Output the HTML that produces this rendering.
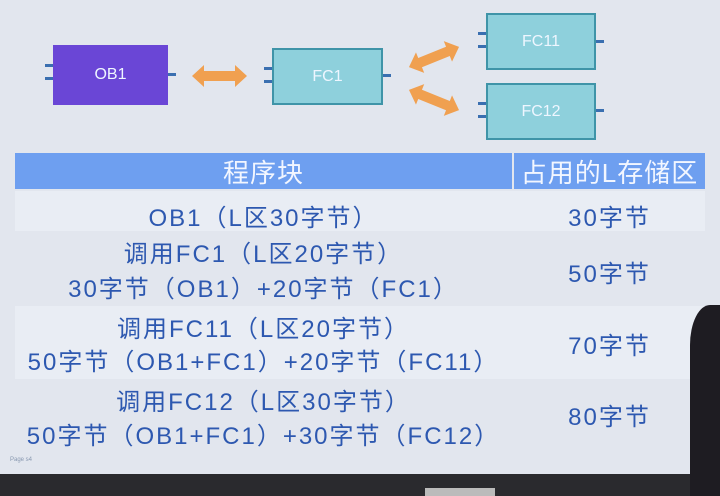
<!DOCTYPE html>
<html><head><meta charset="utf-8"><style>
body{margin:0;width:720px;height:496px;overflow:hidden;background:#e2e6ee;position:relative;font-family:"Liberation Sans","Noto Sans CJK SC",sans-serif}
.b{position:absolute;box-sizing:border-box;color:#eef6ff;font-size:16px;display:flex;align-items:center;justify-content:center}
.fc{background:#8ed0dc;border:2px solid #3f94a8}
.p{position:absolute;background:#3a6fb0;height:3px;width:8px}
.t{position:absolute;color:#2d58b0;font-size:24px;letter-spacing:2px;text-align:center;white-space:nowrap}
.h{position:absolute;top:153px;height:36px;background:#6e9ff0;color:#f2f6ff;font-size:26px;letter-spacing:1px;display:flex;align-items:center;justify-content:center}
</style></head><body>
<div class="b" style="left:53px;top:45px;width:115px;height:60px;background:#6a46d6">OB1</div>
<div class="p" style="left:45px;top:64px"></div><div class="p" style="left:45px;top:77px"></div><div class="p" style="left:168px;top:73px"></div>
<div class="b fc" style="left:272px;top:48px;width:111px;height:57px">FC1</div>
<div class="p" style="left:264px;top:67px"></div><div class="p" style="left:264px;top:80px"></div><div class="p" style="left:383px;top:74px"></div>
<div class="b fc" style="left:486px;top:13px;width:110px;height:57px">FC11</div>
<div class="p" style="left:478px;top:32px"></div><div class="p" style="left:478px;top:45px"></div><div class="p" style="left:596px;top:40px"></div>
<div class="b fc" style="left:486px;top:83px;width:110px;height:57px">FC12</div>
<div class="p" style="left:478px;top:102px"></div><div class="p" style="left:478px;top:115px"></div><div class="p" style="left:596px;top:109px"></div>
<svg style="position:absolute;left:0;top:0" width="720" height="150">
<g fill="#f0a050">
<polygon points="192,76 204,65 204,71 235,71 235,65 247,76 235,87 235,81 204,81 204,87"/>
<g transform="translate(434,57) rotate(-22)"><polygon points="-27,0 -15,-11 -15,-5 15,-5 15,-11 27,0 15,11 15,5 -15,5 -15,11"/></g>
<g transform="translate(434,100) rotate(22)"><polygon points="-27,0 -15,-11 -15,-5 15,-5 15,-11 27,0 15,11 15,5 -15,5 -15,11"/></g>
</g></svg>
<div class="h" style="left:15px;width:497px">程序块</div>
<div class="h" style="left:514px;width:191px">占用的L存储区</div>
<div style="position:absolute;left:15px;top:191px;width:690px;height:40px;background:#e9edf4"></div>
<div style="position:absolute;left:15px;top:306px;width:690px;height:73px;background:#e9edf4"></div>
<div class="t" style="left:15px;width:497px;top:198px">OB1（L区30字节）</div>
<div class="t" style="left:514px;width:191px;top:198px">30字节</div>
<div class="t" style="left:15px;width:497px;top:234px">调用FC1（L区20字节）</div>
<div class="t" style="left:15px;width:497px;top:269px">30字节（OB1）+20字节（FC1）</div>
<div class="t" style="left:514px;width:191px;top:254px">50字节</div>
<div class="t" style="left:15px;width:497px;top:309px">调用FC11（L区20字节）</div>
<div class="t" style="left:15px;width:497px;top:342px">50字节（OB1+FC1）+20字节（FC11）</div>
<div class="t" style="left:514px;width:191px;top:326px">70字节</div>
<div class="t" style="left:15px;width:497px;top:382px">调用FC12（L区30字节）</div>
<div class="t" style="left:15px;width:497px;top:416px">50字节（OB1+FC1）+30字节（FC12）</div>
<div class="t" style="left:514px;width:191px;top:397px">80字节</div>
<div style="position:absolute;left:10px;top:457px;font-size:6px;color:#8898b0">Page s4</div>
<div style="position:absolute;left:0;top:474px;width:720px;height:22px;background:#2a2a2e"></div>
<div style="position:absolute;left:425px;top:488px;width:70px;height:8px;background:#bbb"></div>
<div style="position:absolute;left:690px;top:305px;width:30px;height:191px;background:#1e1c22;border-top-left-radius:20px 40px"></div>
</body></html>
